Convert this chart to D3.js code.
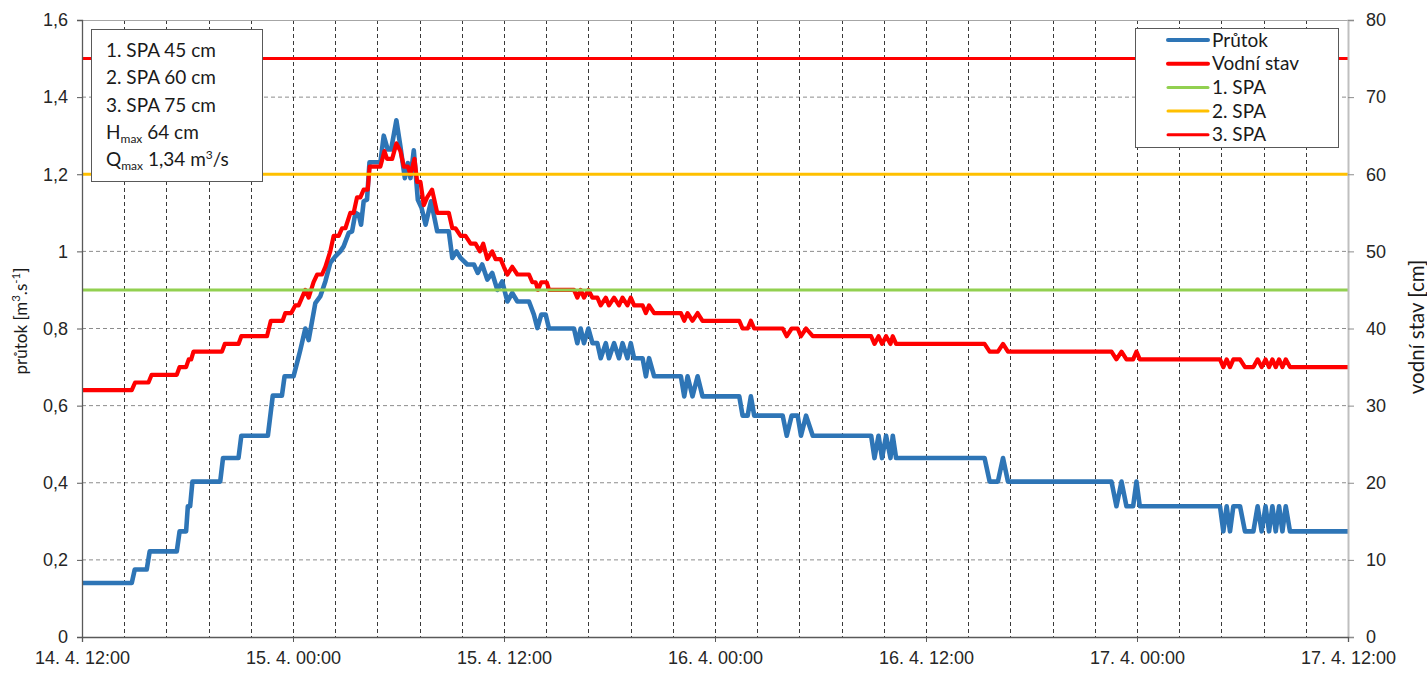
<!DOCTYPE html>
<meta charset="utf-8">
<style>
  body { margin: 0; background: #fff; }
  text { font-family: "Liberation Sans", Arial, sans-serif; fill: #262626; }
  .box text, .title { font-family: Lato, "Noto Sans", sans-serif; fill: #1a1a1a; }
</style>
<body>
<script src="https://cdn.jsdelivr.net/npm/d3@7"></script>
<script>

    var width = 1427,
        height = 673;

    var margin = {left: 82, right: 79, top: 20, bottom: 36};

    // time axis: hours after 14. 4. 12:00
    var startTime = new Date(2000, 3, 14, 12, 0);
    var spanHours = 72;
    var labelHours = [0, 12, 24, 36, 48, 60, 72];
    var gridHours = 2.4;

    var flowTicks = [0, 0.2, 0.4, 0.6, 0.8, 1, 1.2, 1.4, 1.6];
    var levelTicks = [0, 10, 20, 30, 40, 50, 60, 70, 80];

    // Vodní stav [cm] : [hour, cm]
    var levelPts = [
        [0,32],[2.83,32],[3.02,33],[3.78,33],[3.96,34],[5.39,34],[5.55,35],[5.92,35],[6.07,36],[6.21,36],[6.34,37],
        [7.96,37],[8.12,38],[8.90,38],[9.06,39],[10.52,39],[10.74,41],[11.41,41],[11.56,42],[11.9,42],[12.13,43],
        [12.32,43],[12.51,44],[12.70,45],[12.89,44],[13.17,46],[13.37,47],[13.65,47],[13.84,48],[14.12,50],[14.31,52],
        [14.60,52],[14.79,53],[14.98,53],[15.26,55],[15.45,55],[15.64,57],[15.83,57],[16.02,58],[16.25,58],[16.36,61],
        [16.97,61],[17.20,63],[17.35,62],[17.64,62],[17.88,64],[18.11,63],[18.30,61],[18.53,61],[18.68,60],[18.91,62],
        [19.06,59],[19.25,59],[19.44,56],[19.63,57],[19.91,58],[20.20,55],[20.86,55],[21.06,53],[21.24,53],[21.53,52],
        [21.81,52],[22.10,51],[22.38,51],[22.63,50],[22.82,51],[23.05,49],[23.33,50],[23.52,49],[23.81,49],[23.99,48],
        [24.19,47],[24.47,48],[24.76,47],[25.42,47],[25.61,46],[25.80,46],[25.93,45],[26.12,46],[26.43,46],[26.56,45],
        [27.98,45],[28.17,44],[28.36,45],[28.55,44],[28.80,45],[29.03,44],[29.31,44],[29.50,43],[29.79,44],[29.97,43],
        [30.26,44],[30.54,43],[30.74,44],[31.02,43],[31.21,44],[31.40,43],[31.88,43],[32.07,42],[32.25,43],[32.54,42],
        [34.06,42],[34.25,41],[34.44,42],[34.72,41],[35.01,42],[35.29,41],[37.38,41],[37.57,40],[37.86,40],[38.04,41],
        [38.23,40],[39.85,40],[40.08,39],[40.36,40],[40.70,40],[40.89,39],[41.18,40],[41.56,39],[44.88,39],[45.07,38],
        [45.30,39],[45.50,38],[45.73,39],[45.98,38],[46.11,39],[46.30,38],[51.33,38],[51.62,37],[52.09,37],[52.38,38],
        [52.66,37],[58.55,37],[58.83,36],[59.12,37],[59.40,36],[59.78,36],[59.97,37],[60.16,36],[64.72,36],[64.91,35],
        [65.10,36],[65.29,35],[65.48,36],[65.86,36],[66.14,35],[66.62,35],[66.86,36],[67.09,35],[67.31,36],[67.51,35],
        [67.70,36],[67.89,35],[68.08,36],[68.27,35],[68.46,36],[68.70,35],[72,35]
    ];

    // Průtok [m3/s] : [hour, m3/s]
    var flowPts = [
        [0,0.14],[2.83,0.14],[3.0,0.175],[3.68,0.175],[3.85,0.222],[5.39,0.222],[5.55,0.274],[5.92,0.274],[6.02,0.339],
        [6.15,0.339],[6.28,0.403],[7.86,0.403],[8.02,0.464],[8.90,0.464],[9.06,0.522],[10.57,0.522],[10.85,0.626],
        [11.37,0.626],[11.52,0.676],[12.03,0.676],[12.30,0.723],[12.42,0.745],[12.70,0.80],[12.89,0.77],[13.27,0.866],
        [13.55,0.883],[13.84,0.922],[14.12,0.970],[14.41,0.987],[14.69,1.0],[14.88,1.013],[15.17,1.048],[15.36,1.052],
        [15.55,1.10],[15.74,1.095],[15.87,1.069],[16.02,1.13],[16.21,1.134],[16.35,1.231],[16.97,1.231],[17.16,1.30],
        [17.39,1.264],[17.58,1.264],[17.88,1.34],[18.11,1.272],[18.36,1.19],[18.53,1.229],[18.68,1.19],[18.87,1.262],
        [19.10,1.134],[19.31,1.113],[19.54,1.069],[19.85,1.13],[20.20,1.052],[20.86,1.052],[21.06,0.983],[21.30,1.0],
        [21.53,0.983],[21.91,0.966],[22.29,0.966],[22.51,0.944],[22.76,0.966],[23.05,0.927],[23.33,0.944],[23.62,0.90],
        [23.90,0.922],[24.19,0.870],[24.47,0.892],[24.76,0.870],[25.42,0.870],[25.70,0.836],[25.90,0.801],[26.12,0.836],
        [26.37,0.836],[26.56,0.80],[27.98,0.80],[28.17,0.762],[28.36,0.80],[28.55,0.762],[28.80,0.80],[29.03,0.762],
        [29.31,0.762],[29.50,0.723],[29.79,0.762],[29.97,0.723],[30.26,0.762],[30.54,0.723],[30.74,0.762],[31.02,0.723],
        [31.21,0.762],[31.40,0.723],[31.88,0.723],[32.07,0.676],[32.25,0.723],[32.54,0.676],[34.06,0.676],[34.25,0.624],
        [34.44,0.676],[34.72,0.624],[35.01,0.676],[35.29,0.624],[37.38,0.624],[37.57,0.574],[37.86,0.574],[38.04,0.624],
        [38.23,0.574],[39.85,0.574],[40.08,0.522],[40.36,0.574],[40.70,0.574],[40.89,0.522],[41.18,0.574],[41.56,0.522],
        [44.88,0.522],[45.07,0.464],[45.30,0.522],[45.50,0.464],[45.73,0.522],[45.98,0.464],[46.11,0.522],[46.30,0.464],
        [51.33,0.464],[51.62,0.403],[52.09,0.403],[52.38,0.464],[52.66,0.403],[58.55,0.403],[58.83,0.339],[59.12,0.403],
        [59.40,0.339],[59.78,0.339],[59.97,0.403],[60.16,0.339],[64.72,0.339],[64.91,0.274],[65.10,0.339],[65.29,0.274],
        [65.48,0.339],[65.86,0.339],[66.14,0.274],[66.62,0.274],[66.86,0.339],[67.09,0.274],[67.31,0.339],[67.51,0.274],
        [67.70,0.339],[67.89,0.274],[68.08,0.339],[68.27,0.274],[68.46,0.339],[68.70,0.274],[72,0.274]
    ];

    // stupně povodňové aktivity [cm]
    var spaNames = ["1. SPA", "2. SPA", "3. SPA"];
    var spaLevels = [45, 60, 75];
    var spaColors = ["#92d050", "#ffc000", "#ff0000"];

    var legendNames = ["Průtok", "Vodní stav"].concat(spaNames);
    var legendColors = ["#2e75b6", "#ff0000"].concat(spaColors);

    var hMax = 64, qMax = "1,34";

    var toDate = function(h) { return new Date(startTime.getTime() + h * 36e5); };

    var x = d3.scaleTime()
            .domain([startTime, toDate(spanHours)])
            .range([margin.left, width - margin.right]);

    var yFlow = d3.scaleLinear()
            .domain([0, 1.6])
            .range([height - margin.bottom, margin.top]);

    var yLevel = d3.scaleLinear()
            .domain([0, 80])
            .range([height - margin.bottom, margin.top]);

    var cz = d3.formatLocale({decimal: ",", thousands: " ", grouping: [3], currency: ["", " Kč"]});
    var fmtFlow = cz.format(".1~f");
    var fmtTime = d3.timeFormat("%-d. %-m. %H:%M");

    var svg = d3.select("body").append("svg")
            .attr("width", width)
            .attr("height", height);

    var x0 = margin.left, x1 = width - margin.right,
        yTop = margin.top, yBot = height - margin.bottom;

    // horizontal grid
    svg.append("g").selectAll("line")
        .data(flowTicks.filter(function(d) { return d > 0 && d < 1.6; }))
        .enter().append("line")
        .attr("x1", x0).attr("x2", x1)
        .attr("y1", function(d) { return yFlow(d); })
        .attr("y2", function(d) { return yFlow(d); })
        .attr("stroke", "#8c8c8c")
        .attr("stroke-dasharray", "4,3");

    // vertical grid every 2.4 h
    var gridLines = d3.range(1, spanHours / gridHours).map(function(i) { return i * gridHours; });
    svg.append("g").selectAll("line")
        .data(gridLines)
        .enter().append("line")
        .attr("x1", function(d) { return Math.round(x(toDate(d))) + 0.5; })
        .attr("x2", function(d) { return Math.round(x(toDate(d))) + 0.5; })
        .attr("y1", yTop).attr("y2", yBot)
        .attr("stroke", "#3a3a3a")
        .attr("stroke-dasharray", "4,3");

    // top border
    svg.append("line")
        .attr("x1", x0).attr("x2", x1).attr("y1", yTop + 0.5).attr("y2", yTop + 0.5)
        .attr("stroke", "#a6a6a6");

    // series
    var flowLine = d3.line()
            .x(function(d) { return x(toDate(d[0])); })
            .y(function(d) { return yFlow(d[1]); });

    var levelLine = d3.line()
            .x(function(d) { return x(toDate(d[0])); })
            .y(function(d) { return yLevel(d[1]); });

    svg.append("path")
        .attr("d", flowLine(flowPts))
        .attr("fill", "none")
        .attr("stroke", legendColors[0])
        .attr("stroke-width", 4.6)
        .attr("stroke-linejoin", "round");

    svg.append("path")
        .attr("d", levelLine(levelPts))
        .attr("fill", "none")
        .attr("stroke", legendColors[1])
        .attr("stroke-width", 4.2)
        .attr("stroke-linejoin", "round");

    // SPA lines
    svg.append("g").selectAll("line")
        .data(spaLevels)
        .enter().append("line")
        .attr("x1", x0).attr("x2", x1)
        .attr("y1", function(d) { return yLevel(d); })
        .attr("y2", function(d) { return yLevel(d); })
        .attr("stroke", function(d, i) { return spaColors[i]; })
        .attr("stroke-width", 3);

    // axes
    var axisL = svg.append("g")
        .attr("transform", "translate(" + x0 + ",0)")
        .call(d3.axisLeft(yFlow).tickValues(flowTicks).tickFormat(fmtFlow).tickSizeOuter(0).tickSize(5).tickPadding(9));
    axisL.select(".domain").attr("stroke", "#595959").attr("stroke-width", 1.3);
    axisL.selectAll(".tick line").attr("stroke", "#595959");

    var axisR = svg.append("g")
        .attr("transform", "translate(" + x1 + ",0)")
        .call(d3.axisRight(yLevel).tickValues(levelTicks).tickSizeOuter(0).tickSize(6).tickPadding(12));
    axisR.select(".domain").attr("stroke", "#bfbfbf").attr("stroke-width", 2);
    axisR.selectAll(".tick line").attr("stroke", "#8c8c8c");

    var axisB = svg.append("g")
        .attr("transform", "translate(0," + yBot + ")")
        .call(d3.axisBottom(x).tickValues(labelHours.map(toDate)).tickFormat(fmtTime).tickSizeOuter(0).tickSize(5).tickPadding(9));
    axisB.select(".domain").attr("stroke", "#595959").attr("stroke-width", 1.3);
    axisB.selectAll(".tick line").attr("stroke", "#595959");

    svg.selectAll(".tick text")
        .attr("font-family", "Liberation Sans, Arial, sans-serif")
        .attr("font-size", 18)
        .attr("fill", "#262626");

    // axis titles
    var titleL = svg.append("text")
        .attr("class", "title")
        .attr("transform", "translate(21,321) rotate(-90)")
        .attr("text-anchor", "middle")
        .attr("dy", "0.35em")
        .attr("font-size", 17);
    titleL.append("tspan").text("průtok [m");
    titleL.append("tspan").attr("font-size", 11.5).attr("dy", -6.5).text("3");
    titleL.append("tspan").attr("dy", 6.5).text(".s");
    titleL.append("tspan").attr("font-size", 11.5).attr("dy", -6.5).text("-1");
    titleL.append("tspan").attr("dy", 6.5).text("]");

    svg.append("text")
        .attr("class", "title")
        .attr("transform", "translate(1417,327) rotate(-90)")
        .attr("text-anchor", "middle")
        .attr("dy", "0.35em")
        .attr("font-size", 20.5)
        .text("vodní stav [cm]");

    // info box
    var info = svg.append("g").attr("class", "box");
    info.append("rect")
        .attr("x", 91.5).attr("y", 29.5).attr("width", 171).attr("height", 152)
        .attr("fill", "#fff").attr("stroke", "#595959");

    spaNames.forEach(function(n, i) {
        info.append("text")
            .attr("x", 106).attr("y", 57 + i * 27.3)
            .attr("font-size", 19)
            .text(n + " " + spaLevels[i] + " cm");
    });
    var th = info.append("text").attr("x", 106).attr("y", 57 + 3 * 27.3).attr("font-size", 19);
    th.append("tspan").text("H");
    th.append("tspan").attr("font-size", 12).attr("dy", 4).text("max");
    th.append("tspan").attr("dy", -4).text(" " + hMax + " cm");
    var tq = info.append("text").attr("x", 106).attr("y", 57 + 4 * 27.3).attr("font-size", 19);
    tq.append("tspan").text("Q");
    tq.append("tspan").attr("font-size", 12).attr("dy", 4).text("max");
    tq.append("tspan").attr("dy", -4).text(" " + qMax + " m");
    tq.append("tspan").attr("font-size", 12).attr("dy", -7).text("3");
    tq.append("tspan").attr("dy", 7).text("/s");

    // legend
    var leg = svg.append("g").attr("class", "box");
    leg.append("rect")
        .attr("x", 1135.5).attr("y", 28.5).attr("width", 203).attr("height", 119)
        .attr("fill", "#fff").attr("stroke", "#595959");

    legendNames.forEach(function(n, i) {
        var ly = 40 + i * 23.7;
        leg.append("line")
            .attr("x1", 1168).attr("x2", 1208)
            .attr("y1", ly).attr("y2", ly)
            .attr("stroke", legendColors[i])
            .attr("stroke-width", i < 2 ? 4 : 3)
            .attr("stroke-linecap", "round");
        leg.append("text")
            .attr("x", 1212).attr("y", ly + 6.5)
            .attr("font-size", 19)
            .text(n);
    });

</script>
